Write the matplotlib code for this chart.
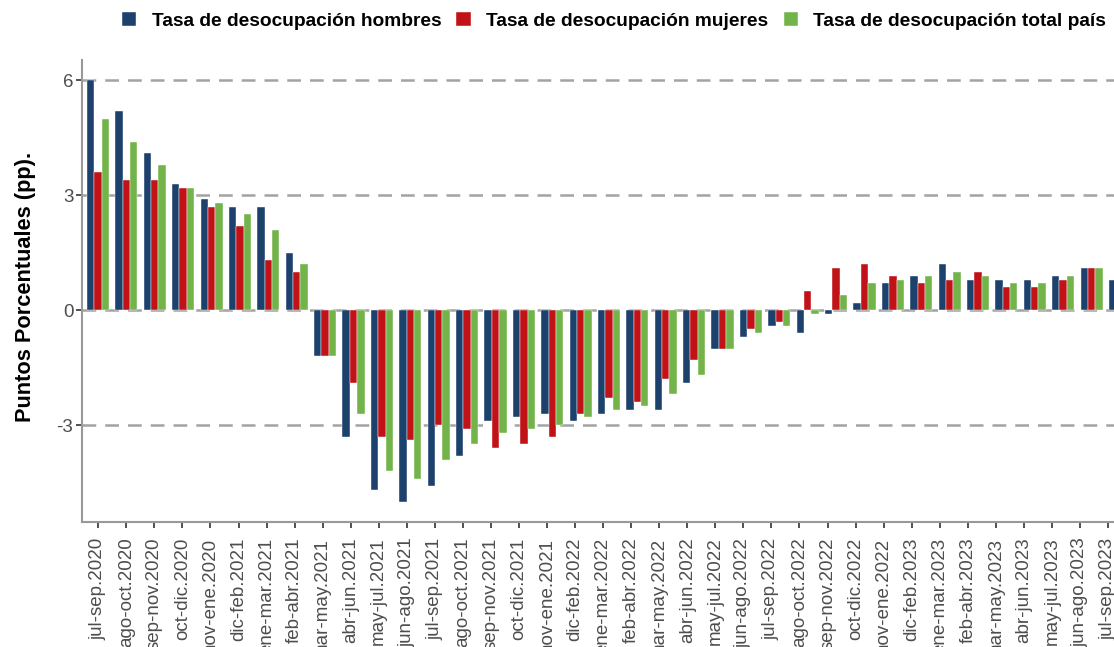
import numpy as np
import matplotlib.pyplot as plt

# --- Data ---
periodos = [
    "jul-sep.2020", "ago-oct.2020", "sep-nov.2020", "oct-dic.2020", "nov-ene.2020",
    "dic-feb.2021", "ene-mar.2021", "feb-abr.2021", "mar-may.2021", "abr-jun.2021",
    "may-jul.2021", "jun-ago.2021", "jul-sep.2021", "ago-oct.2021", "sep-nov.2021",
    "oct-dic.2021", "nov-ene.2021", "dic-feb.2022", "ene-mar.2022", "feb-abr.2022",
    "mar-may.2022", "abr-jun.2022", "may-jul.2022", "jun-ago.2022", "jul-sep.2022",
    "ago-oct.2022", "sep-nov.2022", "oct-dic.2022", "nov-ene.2022", "dic-feb.2023",
    "ene-mar.2023", "feb-abr.2023", "mar-may.2023", "abr-jun.2023", "may-jul.2023",
    "jun-ago.2023", "jul-sep.2023",
]
hombres = [6.0, 5.2, 4.1, 3.3, 2.9, 2.7, 2.7, 1.5, -1.2, -3.3,
           -4.7, -5.0, -4.6, -3.8, -2.9, -2.8, -2.7, -2.9, -2.7, -2.6,
           -2.6, -1.9, -1.0, -0.7, -0.4, -0.6, -0.1, 0.2, 0.7, 0.9,
           1.2, 0.8, 0.8, 0.8, 0.9, 1.1, 0.8]
mujeres = [3.6, 3.4, 3.4, 3.2, 2.7, 2.2, 1.3, 1.0, -1.2, -1.9,
           -3.3, -3.4, -3.0, -3.1, -3.6, -3.5, -3.3, -2.7, -2.3, -2.4,
           -1.8, -1.3, -1.0, -0.5, -0.3, 0.5, 1.1, 1.2, 0.9, 0.7,
           0.8, 1.0, 0.6, 0.6, 0.8, 1.1, 0.7]
total = [5.0, 4.4, 3.8, 3.2, 2.8, 2.5, 2.1, 1.2, -1.2, -2.7,
         -4.2, -4.4, -3.9, -3.5, -3.2, -3.1, -3.0, -2.8, -2.6, -2.5,
         -2.2, -1.7, -1.0, -0.6, -0.4, -0.1, 0.4, 0.7, 0.8, 0.9,
         1.0, 0.9, 0.7, 0.7, 0.9, 1.1, 0.8]

series = [
    ("Tasa de desocupación hombres", hombres, "#1d416d"),
    ("Tasa de desocupación mujeres", mujeres, "#c11218"),
    ("Tasa de desocupación total país", total, "#72b44a"),
]

W, H = 1114, 647
fig = plt.figure(figsize=(W / 100, H / 100), dpi=100)
plt.rcParams['font.family'] = ['Liberation Sans', 'DejaVu Sans']

left, right, top, bottom = 81.7, 1114, 60, 521.7
ax = fig.add_axes([left / W, 1 - bottom / H, (right - left) / W, (bottom - top) / H])

x = np.arange(len(periodos))
bw = 0.26
for k, (name, vals, col) in enumerate(series):
    ax.bar(x + (k - 1) * bw, vals, width=bw, color=col, label=name,
           edgecolor='white', linewidth=0.3, zorder=3)

ax.set_xlim(-0.575, 35.79)
ax.set_ylim(-5.52, 6.53)

# dashed horizontal grid behind the bars
for yv in [-3, 0, 3, 6]:
    ax.axhline(yv, color='#a3a3a3', linewidth=1.8, linestyle=(0, (5.5, 3.6)), zorder=1)

ax.set_yticks([-3, 0, 3, 6])
ax.set_yticklabels(["-3", "0", "3", "6"])
# tick labels sit on a slightly tighter spacing than the bar groups
tick_step = 28.05 / 28.39
ax.set_xticks(x * tick_step + 0.01)
ax.set_xticklabels(periodos, rotation=90, ha='center', va='top')

ax.tick_params(axis='both', colors='#333333', labelcolor='#4d4d4d', labelsize=13.5,
               length=4, width=1.2)
ax.tick_params(axis='x', pad=7.5)
ax.tick_params(axis='y', pad=2)

for s in ['top', 'right']:
    ax.spines[s].set_visible(False)
for s in ['left', 'bottom']:
    ax.spines[s].set_color('#999999')
    ax.spines[s].set_linewidth(1.5)

ax.set_ylabel("Puntos Porcentuales (pp).", fontsize=15.7, fontweight='bold', color='black')
ax.yaxis.set_label_coords(-0.044, 0.508)

fig.legend(loc='center', bbox_to_anchor=(614 / W, 1 - 21 / H), ncol=3, frameon=False,
           prop={'size': 13.8, 'weight': 'bold'}, handlelength=0.75, handleheight=0.75,
           handletextpad=0.8, columnspacing=0.8, borderaxespad=0, borderpad=0)

fig.savefig("out.png", dpi=100)
